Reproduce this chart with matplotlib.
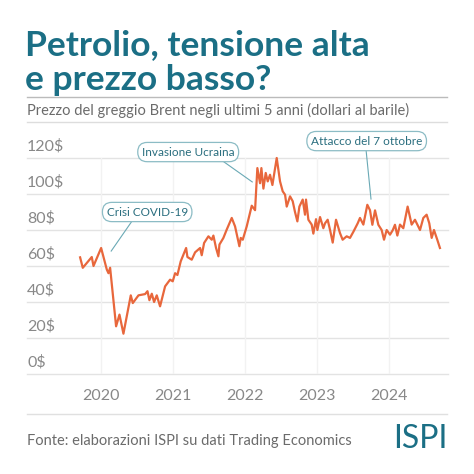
import matplotlib
matplotlib.use("Agg")
import matplotlib.pyplot as plt

plt.rcParams['font.family'] = ['Lato', 'DejaVu Sans']

years = [2019.708, 2019.745, 2019.870, 2019.894, 2020.000, 2020.079, 2020.102, 2020.125, 2020.208, 2020.255,
         2020.310, 2020.412, 2020.440, 2020.519, 2020.611, 2020.644, 2020.671, 2020.704, 2020.736, 2020.773,
         2020.819, 2020.889, 2020.958, 2020.995, 2021.028, 2021.060, 2021.106, 2021.181, 2021.199, 2021.259,
         2021.306, 2021.375, 2021.398, 2021.431, 2021.491, 2021.537, 2021.560, 2021.597, 2021.630, 2021.644,
         2021.699, 2021.745, 2021.815, 2021.861, 2021.921, 2021.940, 2021.968, 2022.023, 2022.093, 2022.139,
         2022.171, 2022.208, 2022.227, 2022.255, 2022.287, 2022.315, 2022.347, 2022.380, 2022.440, 2022.486,
         2022.523, 2022.556, 2022.579, 2022.625, 2022.662, 2022.694, 2022.727, 2022.755, 2022.801, 2022.833,
         2022.847, 2022.880, 2022.926, 2022.949, 2022.986, 2023.005, 2023.042, 2023.088, 2023.111, 2023.148,
         2023.181, 2023.218, 2023.264, 2023.319, 2023.356, 2023.412, 2023.458, 2023.505, 2023.565, 2023.597,
         2023.644, 2023.699, 2023.736, 2023.769, 2023.806, 2023.852, 2023.898, 2023.931, 2023.968, 2024.014,
         2024.051, 2024.083, 2024.116, 2024.153, 2024.199, 2024.259, 2024.315, 2024.361, 2024.431, 2024.477,
         2024.523, 2024.560, 2024.593, 2024.625, 2024.671, 2024.708]
prices = [64.8, 59, 65, 60, 70, 58, 56, 59, 26.5, 33,
          22.4, 43.7, 39.4, 43.7, 44.4, 46, 41, 44.6, 40, 43.7,
          37.6, 48.7, 52.4, 51.5, 56, 55, 62.6, 70, 65, 63.5,
          67.6, 70, 66, 72.8, 76.5, 74.6, 76.9, 70, 65.4, 71.9,
          75.6, 80.2, 86.7, 82, 71, 75.6, 74.6, 82, 93.5, 91,
          114.4, 106, 114.4, 103, 111.7, 107, 110.7, 105, 120, 107,
          101.5, 99.6, 93, 98.7, 96, 90, 84.8, 93, 96.9, 88.5,
          96.9, 85.7, 83, 78, 86, 80, 87.2, 81, 83.7, 85.7,
          80, 73, 85.7, 78.3, 74.6, 76.5, 75.6, 79, 83.7, 86.7,
          83, 94, 91, 82.9, 90.9, 82.9, 80, 74.6, 80, 77.4,
          79.8, 82.9, 76.9, 83, 81, 93, 83, 85.7, 80, 86.7,
          88.5, 83.7, 75.6, 80, 74.6, 70]
ytick_vals = [0, 20, 40, 60, 80, 100, 120]
ytick_labels = ["0$", "20$", "40$", "60$", "80$", "100$", "120$"]
xtick_vals = [2020, 2021, 2022, 2023, 2024]
xtick_labels = ["2020", "2021", "2022", "2023", "2024"]
events = ["Crisi COVID-19", "Invasione Ucraina", "Attacco del 7 ottobre"]
event_box = [(2020.64, 90), (2021.21, 123.3), (2023.69, 129.4)]
event_line = [((2020.43, 85), (2020.14, 68.3)), ((2021.69, 118.3), (2022.10, 106.7)), ((2023.68, 125), (2023.75, 97.2))]

W = H = 474
fig = plt.figure(figsize=(4.74, 4.74), dpi=100)
fig.patch.set_facecolor("white")
teal = "#1b6f85"
grey = "#6b6b6b"

def fy(py):
    return 1 - py / H

fig.text(25 / W, fy(45), "Petrolio, tensione alta", fontsize=25.5, fontweight="bold", color=teal, va="center", ha="left")
fig.text(25 / W, fy(80), "e prezzo basso?", fontsize=25.5, fontweight="bold", color=teal, va="center", ha="left")
fig.add_artist(plt.Line2D([27 / W, 447 / W], [fy(97), fy(97)], color="#bbbbbb", lw=1))
fig.text(27 / W, fy(110), "Prezzo del greggio Brent negli ultimi 5 anni (dollari al barile)", fontsize=10.5, color=grey, va="center", ha="left")
fig.add_artist(plt.Line2D([27 / W, 447 / W], [fy(122), fy(122)], color="#dddddd", lw=1))
fig.add_artist(plt.Line2D([27 / W, 447 / W], [fy(414), fy(414)], color="#e0e0e0", lw=1))
fig.text(27 / W, fy(441), "Fonte: elaborazioni ISPI su dati Trading Economics", fontsize=10.5, color=grey, va="center", ha="left")
fig.text(447 / W, fy(439), "ISPI", fontsize=23, color=teal, va="center", ha="right")

ax = fig.add_axes([27 / W, fy(374), (448 - 27) / W, (374 - 158) / H])
ax.set_xlim(2018.97, 2024.82)
ax.set_ylim(0, 120)
for s in ax.spines.values():
    s.set_visible(False)
ax.set_xticks([])
ax.set_yticks([])
for v, lab in zip(ytick_vals, ytick_labels):
    ax.axhline(v, color="#e3e3e3", lw=1, zorder=0, clip_on=False)
    ax.text(0, v + 2.5, lab, transform=ax.get_yaxis_transform(),
            fontsize=11.5, color="#888888", ha="left", va="bottom")
for v, lab in zip(xtick_vals, xtick_labels):
    ax.axvline(v, color="#f2f2f2", lw=1, zorder=0)
    ax.text(v, -12, lab, fontsize=11.5, color="#888888", ha="center", va="center", clip_on=False)

ax.plot(years, prices, color="#e8673c", lw=1.6, zorder=3, clip_on=False)

for lab, (bx, by), (p0, p1) in zip(events, event_box, event_line):
    ax.plot([p0[0], p1[0]], [p0[1], p1[1]], color="#6aa9b5", lw=0.8, clip_on=False, zorder=2)
    ax.text(bx, by, lab, fontsize=8.5, color="#2a6e7f", ha="center", va="center", zorder=4,
            bbox=dict(boxstyle="round,pad=0.35,rounding_size=0.8", fc="white", ec="#8cbcc5", lw=0.9))

fig.savefig("out.png", dpi=100, facecolor="white")
